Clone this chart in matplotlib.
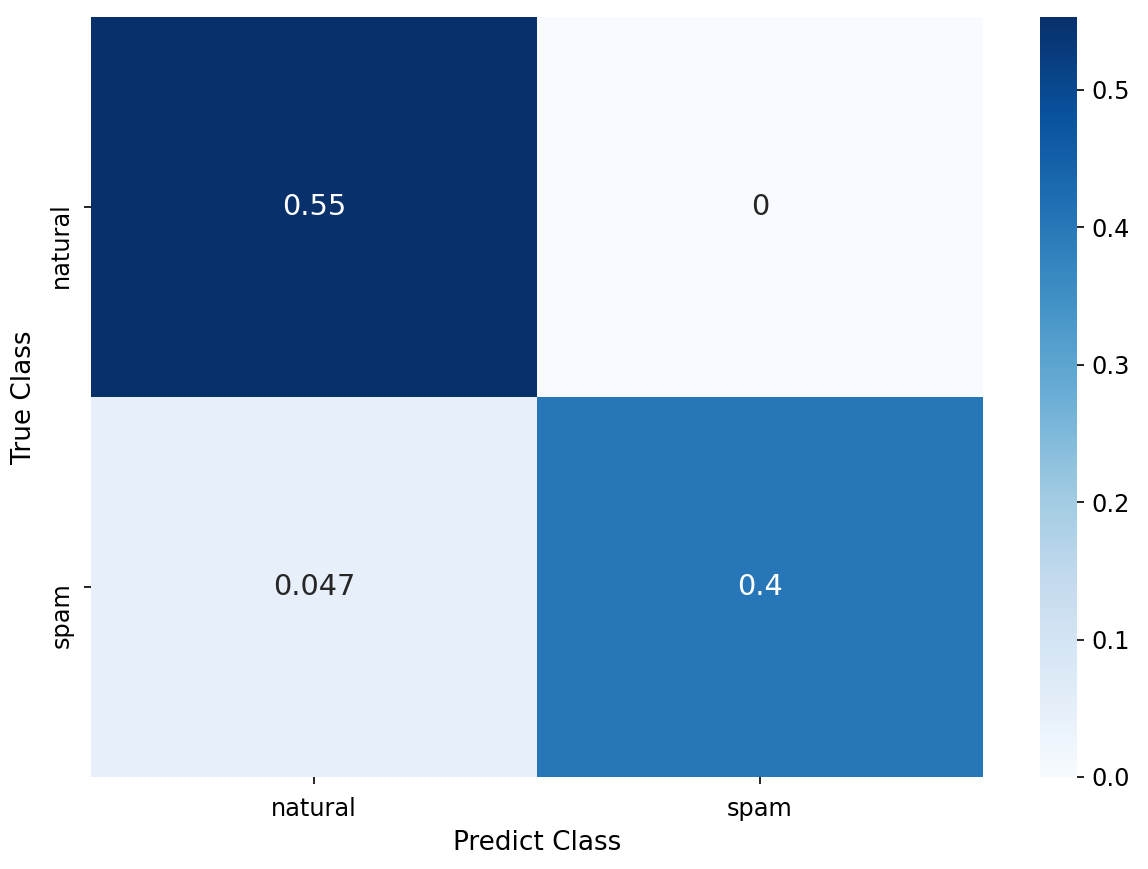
import matplotlib
matplotlib.use("Agg")
import matplotlib.pyplot as plt
import matplotlib.transforms as mtransforms
import numpy as np
import seaborn as sns

# Confusion matrix (normalized)
classes = ["natural", "spam"]
row_natural = [0.553, 0.0]
row_spam = [0.047, 0.40]

cm = np.array([row_natural, row_spam])

W, H = 1148, 869
fig = plt.figure(figsize=(W / 150, H / 150), dpi=150)
ax = fig.add_axes([91 / W, 1 - 777 / H, (983 - 91) / W, (777 - 17) / H])
cax = fig.add_axes([1040 / W, 1 - 777 / H, 37 / W, (777 - 17) / H])

sns.heatmap(cm, annot=True, cmap="Blues", ax=ax, cbar_ax=cax,
            xticklabels=classes, yticklabels=classes,
            annot_kws={"fontsize": 13.8})

ax.set_xlabel("Predict Class", fontsize=12.6)
ax.set_ylabel("True Class", fontsize=12.6, labelpad=6)
ax.tick_params(labelsize=11.5)
ax.tick_params(axis="x", pad=6.3)
ax.tick_params(axis="y", pad=5.0)
cax.tick_params(labelsize=11.5)
cax.yaxis.set_major_locator(plt.MultipleLocator(0.1))

# y tick labels in the reference hang below their ticks
shift = mtransforms.ScaledTranslation(0, 5 / 150, fig.dpi_scale_trans)
for lab in ax.get_yticklabels():
    lab.set_va("top")
    lab.set_transform(lab.get_transform() + shift)

fig.savefig("out.png", dpi=150)
